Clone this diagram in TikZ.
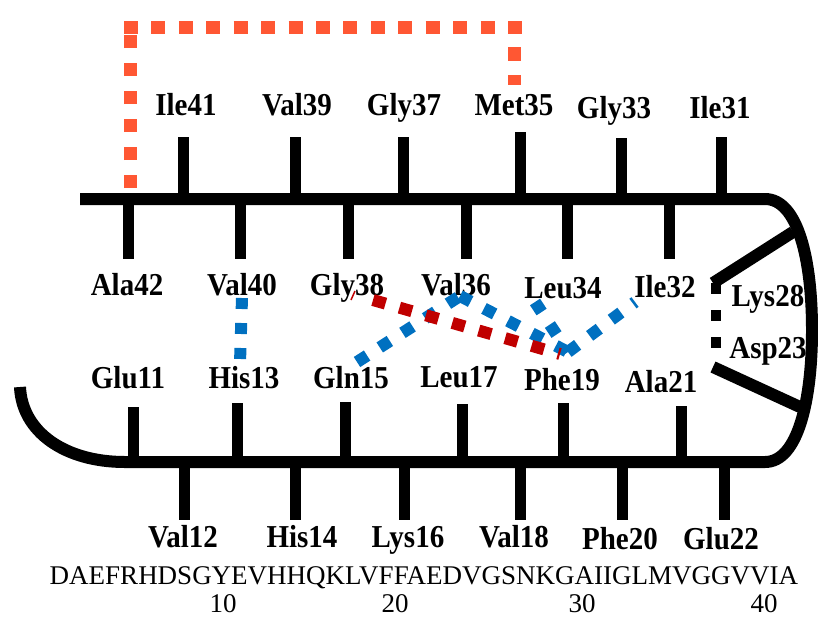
\documentclass[tikz,border=0pt]{standalone}
\usepackage{fontspec}
\setmainfont{Liberation Serif}
\definecolor{bondblue}{RGB}{0,112,192}
\definecolor{bondred}{RGB}{192,0,0}
\definecolor{saltbridge}{RGB}{255,87,51}
% residue names are set slightly taller than wide
\newcommand\resname[1]{\scalebox{1}[1.1]{#1}}
\begin{document}
\begin{tikzpicture}[x=1pt,y=-1pt,
  res/.style={font=\fontsize{29}{29}\selectfont\bfseries, inner sep=0pt, anchor=base},
  seqtext/.style={font=\fontsize{27}{27}\selectfont, inner sep=0pt, anchor=base},
  chain/.style={line width=12pt, line join=round},
  stub/.style={line width=11pt},
  bluelink/.style={draw=bondblue, line width=12pt, dash pattern=on 12pt off 15pt},
  redlink/.style={draw=bondred, line width=12pt, dash pattern=on 13pt off 14.5pt},
  orangelink/.style={draw=saltbridge, line width=13pt}]
\useasboundingbox (0,0) rectangle (818,619);

% backbone of the fibril strand
\draw[chain] (80,199) -- (765,199)
  .. controls (798,199) and (812,260) .. (812,330)
  .. controls (812,400) and (798,462) .. (765,462)
  -- (125,462) .. controls (65,462) and (22,432) .. (20,387);
\draw[chain] (713,283) -- (793,232);
\draw[chain] (713,367) -- (800,407);
\draw[line width=10pt, dash pattern=on 11pt off 16pt] (716,283) -- (716,350);

% side chains, upper strand
\foreach \x/\t in {183/137,295/137,403/137,520/132,621/138,721/137}
  \draw[stub] (\x,\t) -- (\x,199);
\foreach \x in {128,240,348,466,567,669}
  \draw[stub] (\x,199) -- (\x,259);
% side chains, lower strand
\foreach \x/\t in {133/407,237/403,345/402,462/404,563/403,681/406}
  \draw[stub] (\x,\t) -- (\x,462);
\foreach \x in {184,295,404,520,622,724}
  \draw[stub] (\x,462) -- (\x,520);

% residue labels
\node[res] (i41) at (186,115) {\resname{Ile41}};
\node[res] (v39) at (297,115) {\resname{Val39}};
\node[res] (g37) at (404,115) {\resname{Gly37}};
\node[res] (m35) at (514,115) {\resname{Met35}};
\node[res] (g33) at (614,118) {\resname{Gly33}};
\node[res] (i31) at (720,118) {\resname{Ile31}};

\node[res] (a42) at (127,295) {\resname{Ala42}};
\node[res] (v40) at (242,295) {\resname{Val40}};
\node[res] (g38) at (347,295) {\resname{Gly38}};
\node[res] (v36) at (456,295) {\resname{Val36}};
\node[res] (l34) at (563,298) {\resname{Leu34}};
\node[res] (i32) at (665,297) {\resname{Ile32}};
\node[res] (k28) at (768,306) {\resname{Lys28}};
\node[res] (d23) at (768,358) {\resname{Asp23}};

\node[res] (e11) at (128,388) {\resname{Glu11}};
\node[res] (h13) at (244,388) {\resname{His13}};
\node[res] (q15) at (351,388) {\resname{Gln15}};
\node[res] (l17) at (459,387) {\resname{Leu17}};
\node[res] (f19) at (562,390) {\resname{Phe19}};
\node[res] (a21) at (661,392) {\resname{Ala21}};

\node[res] (v12) at (183,547) {\resname{Val12}};
\node[res] (h14) at (302,547) {\resname{His14}};
\node[res] (k16) at (408,547) {\resname{Lys16}};
\node[res] (v18) at (514,547) {\resname{Val18}};
\node[res] (f20) at (620,549) {\resname{Phe20}};
\node[res] (e22) at (721,549) {\resname{Glu22}};

% sequence and numbering
\node[seqtext] (seq) at (424,584) {DAEFRHDSGYEVHHQKLVFFAEDVGSNKGAIIGLMVGGVVIA};
\node[seqtext] (n10) at (223,612) {10};
\node[seqtext] (n20) at (395,612) {20};
\node[seqtext] (n30) at (582,612) {30};
\node[seqtext] (n40) at (764,612) {40};

% contact end points
\coordinate (pV40) at (242,298);
\coordinate (pH13) at (240,363);
\coordinate (pQ15) at (357,362);
\coordinate (pV36) at (460,296);
\coordinate (pL34) at (535,302);
\coordinate (pF19) at (568,352);
\coordinate (pI32) at (635,302);
\coordinate (pG38) at (373,300);
\coordinate (pF19r) at (560,354);
\coordinate (pA42) at (130,188);
\coordinate (cA) at (130,33);
\coordinate (cB) at (124,27);
\coordinate (cC) at (522,27);
\coordinate (cD) at (514,47);
\coordinate (pM35) at (514,85);

% blue contacts
\draw[bluelink, dash pattern=on 11pt off 14pt] (pV40) -- (pH13);
\draw[bluelink] (pQ15) -- (pV36);
\draw[bluelink] (pV36) -- (pF19);
\draw[bluelink] (pL34) -- (pF19);
\draw[bluelink] (pF19) -- (pI32);

% red contact
\draw[draw=bondred, line width=1.5pt] (351,300) -- (355,291);
\draw[redlink] (pG38) -- (pF19r);

% orange contact Ala42 -- Met35
\draw[orangelink, dash pattern=on 13pt off 15pt] (pA42) -- (cA);
\draw[orangelink, dash pattern=on 14pt off 13.43pt] (cB) -- (cC);
\draw[orangelink, dash pattern=on 14pt off 14pt] (cD) -- (pM35);
\end{tikzpicture}
\end{document}
